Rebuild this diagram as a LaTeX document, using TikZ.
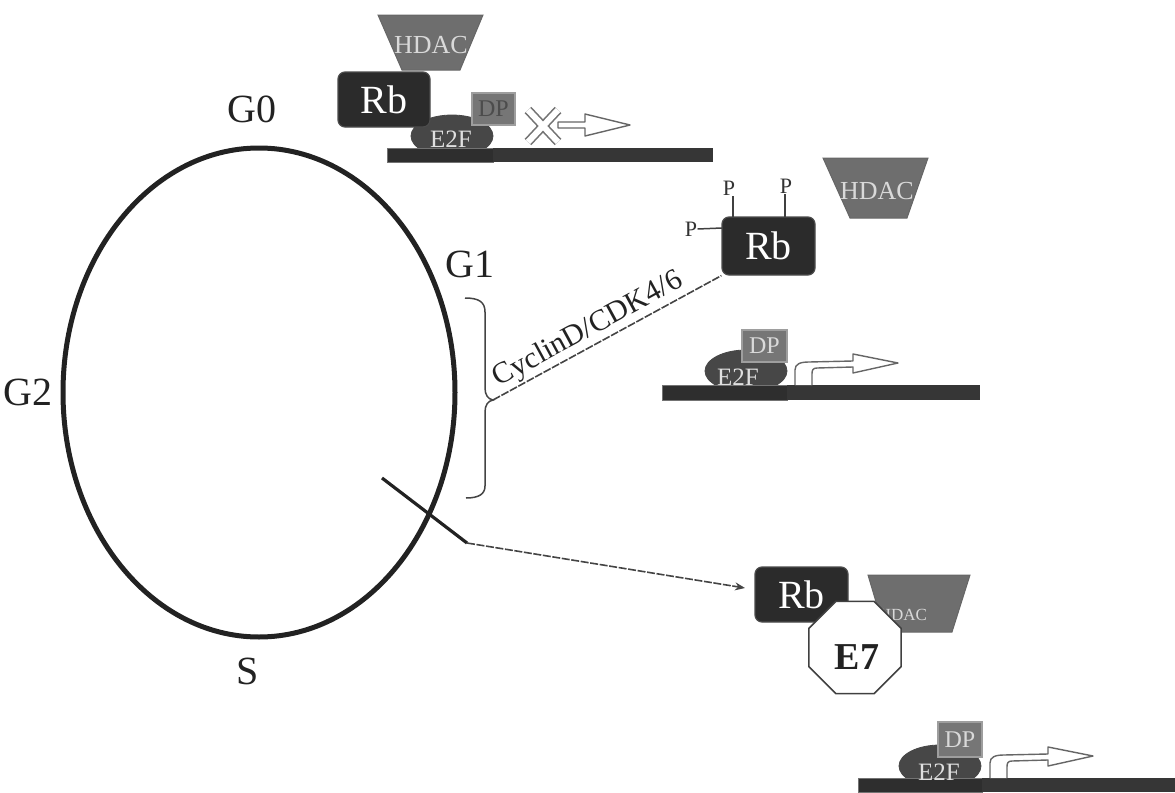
\documentclass[tikz,border=0pt]{standalone}
\usepackage{fontspec}
\setmainfont{Liberation Serif}
\usetikzlibrary{shapes.geometric,arrows.meta}

\definecolor{ink}{HTML}{222222}
\definecolor{rbfill}{HTML}{2B2B2B}
\definecolor{hdacfill}{HTML}{6E6E6E}
\definecolor{e2ffill}{HTML}{474747}
\definecolor{dpfill}{HTML}{767676}
\definecolor{dnafill}{HTML}{2E2E2E}
\definecolor{dnaright}{HTML}{363636}
\definecolor{linegray}{HTML}{444444}

\tikzset{
  rbbox/.style={fill=rbfill, draw=black!70, line width=0.6pt, rounded corners=3.5pt,
    text=white, font=\fontsize{20}{20}\selectfont, inner sep=0pt},
  e2fshape/.style={ellipse, fill=e2ffill, draw=e2ffill, inner sep=0pt,
    minimum width=41pt, minimum height=21pt},
  e2flabel/.style={text=white!88!black, font=\fontsize{12.5}{12.5}\selectfont, inner sep=0pt},
  dpbox/.style={fill=dpfill, draw=white!62!black, line width=0.8pt, inner sep=0pt,
    font=\fontsize{12}{12}\selectfont},
  hdacshape/.style={fill=hdacfill, draw=black!60, line width=0.5pt},
  hdaclabel/.style={text=white!85!black, font=\fontsize{13}{13}\selectfont, inner sep=0pt},
  phaselabel/.style={text=ink, font=\fontsize{20}{20}\selectfont, inner sep=0pt},
  plabel/.style={text=black!80, font=\fontsize{11}{11}\selectfont, inner sep=0pt},
  plink/.style={draw=black!75, line width=0.75pt},
  dnabar/.style={fill=dnafill, draw=black!55, line width=0.4pt},
  dnabarright/.style={fill=dnaright, draw=none},
  hollow/.style={fill=white, draw=black!60, line width=0.7pt, line join=round},
  thinlink/.style={draw=linegray, line width=0.8pt, dash pattern=on 4pt off 0.8pt},
  promoter/.pic={
    \path[hollow] (0,0) -- (0,-15) .. controls (0,-21) and (5,-23) .. (14,-23)
      -- (58,-24) -- (58,-31) -- (103,-22) -- (58,-12) -- (58,-18) -- (22,-17)
      .. controls (18,-17) and (17,-15) .. (17,-11) -- (17,0);
  },
}

\begin{document}
\begin{tikzpicture}[x=0.5pt,y=-0.5pt]
\useasboundingbox (0,0) rectangle (1175,793);

% ---------------- cell cycle ----------------
\node[ellipse, draw=ink, line width=2.5pt, minimum width=196pt, minimum height=244.5pt,
  inner sep=0pt] (cellcycle) at (259,392.5) {};
\node[phaselabel] (g0) at (252,109) {G0};
\node[phaselabel] (g1) at (470,264) {G1};
\node[phaselabel] (g2) at (28,392) {G2};
\node[phaselabel] (s)  at (248,671) {S};

% brace over G1
\coordinate (bracetip) at (493,400);
\draw[linegray, line width=0.75pt]
  (465,298) .. controls (479,298) and (485,302) .. (485,312) -- (485,388)
  .. controls (485,395) and (488,399) .. (bracetip)
  .. controls (488,401) and (485,405) .. (485,412) -- (485,486)
  .. controls (485,494) and (479,498) .. (466,498);

% ---------------- quiescent state (top) ----------------
\node[e2fshape] (e2ftop) at (452,136) {};
\path[dnabar] (387,148) rectangle (493,162);
\path[dnabarright] (493,148) rectangle (713,162);
\node[e2flabel] (e2ftoplbl) at (451,139) {E2F};
\node[rbbox, minimum width=46pt, minimum height=27.5pt] (rbtop) at (384,99.5) {Rb};
\node[dpbox, minimum width=21.5pt, minimum height=16pt, text=black!70] (dptop) at (493.5,109) {DP};
\path[hdacshape] (378,15) -- (483,15) -- (460,70) -- (402,70) -- cycle;
\node[hdaclabel] (hdactop) at (431,45) {HDAC};
\path[hollow] (558,122) -- (585,122) -- (585,114) -- (630,125) -- (585,136) -- (585,128) -- (558,128) -- cycle;
\draw[draw=black!55, double=white, line width=0.8pt, double distance=3pt]
  (528,110) -- (558,142) (528,142) -- (558,110);

% ---------------- G1: phosphorylated Rb ----------------
\path[hdacshape] (823,158) -- (928,158) -- (907,218) -- (850,218) -- cycle;
\node[hdaclabel] (hdacmid) at (877,191) {HDAC};
\node[rbbox, minimum width=46.5pt, minimum height=29pt] (rbmid) at (768.5,246) {Rb};
\node[plabel] (p1) at (729,188) {P};
\node[plabel] (p2) at (786,186) {P};
\node[plabel] (p3) at (691,229) {P};
\draw[plink] (733,196) -- (733,217);
\draw[plink] (785,194) -- (785,217);
\draw[plink] (p3.east) -- (722,228);

\draw[thinlink] (bracetip) -- node[sloped, above, pos=0.45, inner sep=0.8pt, text=ink,
  font=\fontsize{15}{15}\selectfont] (cdk) {CyclinD/CDK4/6} (rbmid.south west);

\node[e2fshape] (e2fmid) at (746,371) {};
\path[dnabar] (662,385) rectangle (787,400);
\path[dnabarright] (787,385) rectangle (980,400);
\node[e2flabel] (e2fmidlbl) at (738,377) {E2F};
\node[dpbox, minimum width=22.5pt, minimum height=16pt, text=white!85!black] (dpmid) at (764.5,346) {DP};
\pic at (795,385) {promoter};

% ---------------- S: E7 bound Rb ----------------
\coordinate (xs) at (382,478);
\coordinate (xb) at (467,543);
\coordinate (xt) at (745,588);
\draw[ink, line width=1.6pt] (xs) -- (xb);
\draw[thinlink, -{Stealth[length=5pt,width=4pt]}] (xb) -- (xt);

\path[hdacshape] (868,575) -- (970,575) -- (952,632) -- (885,632) -- cycle;
\node[hdaclabel, font=\fontsize{8.5}{8.5}\selectfont] (hdacbot) at (903,615) {HDAC};
\node[rbbox, minimum width=46.5pt, minimum height=27.5pt] (rbbot) at (801.5,594.5) {Rb};
\node[regular polygon, regular polygon sides=8, minimum size=50pt, draw=black!75,
  line width=0.8pt, fill=white, inner sep=0pt] (e7) at (855,647.5) {};
\node[font=\bfseries\fontsize{19}{19}\selectfont, text=ink, inner sep=0pt] (e7lbl) at (857,657) {E7};

\node[e2fshape] (e2fbot) at (940,766) {};
\path[dnabar] (858,778) rectangle (982,792);
\path[dnabarright] (982,778) rectangle (1175,792);
\node[e2flabel] (e2fbotlbl) at (939,772) {E2F};
\node[dpbox, minimum width=22pt, minimum height=17.5pt, text=white!85!black] (dpbot) at (960,739.5) {DP};
\pic at (990,778) {promoter};

\end{tikzpicture}
\end{document}
